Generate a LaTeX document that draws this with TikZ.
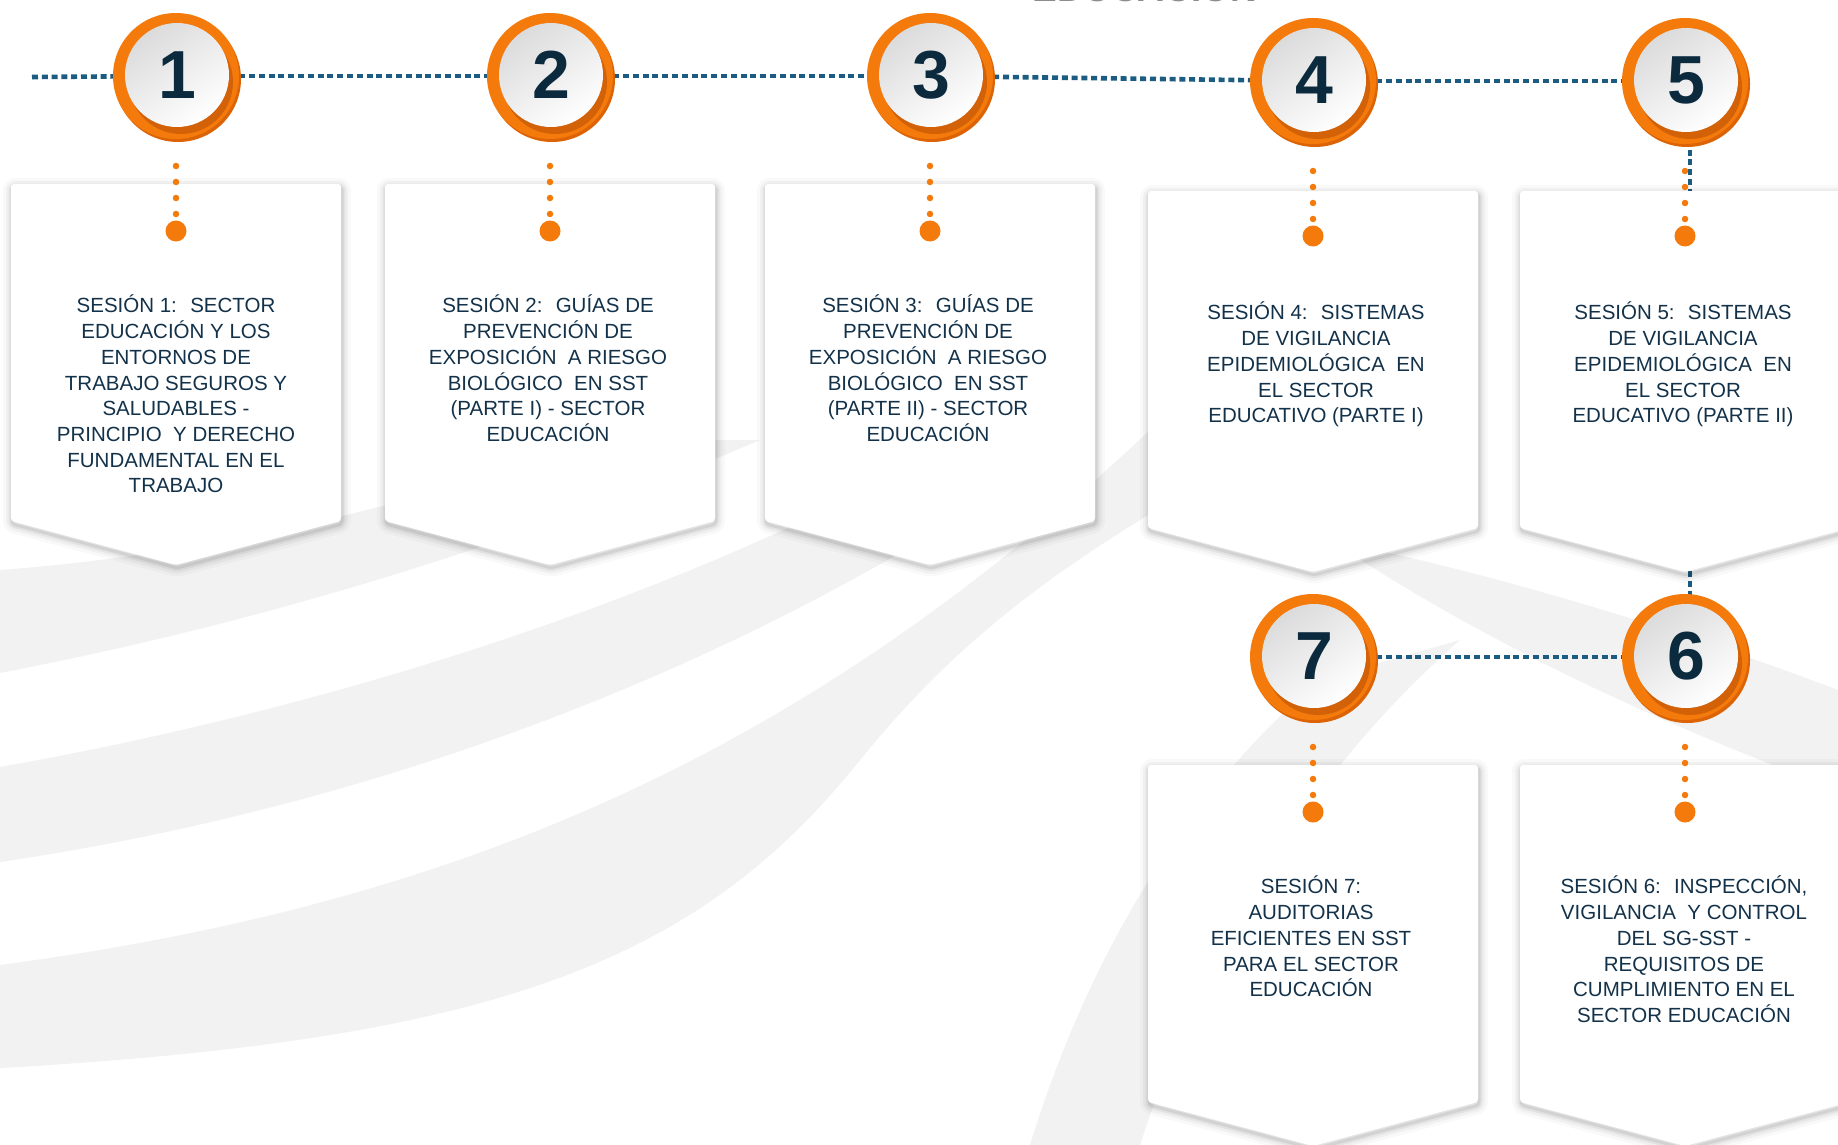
\documentclass[tikz,border=0pt]{standalone}
\usepackage{fontspec}
\setmainfont{Liberation Sans}
\usetikzlibrary{calc}
\definecolor{orng}{HTML}{F47A0C}
\definecolor{orngdark}{HTML}{B84E06}
\definecolor{orngshade}{HTML}{DC6406}
\definecolor{navy}{HTML}{13324A}
\definecolor{numcol}{HTML}{0B2A3D}
\definecolor{dotblue}{HTML}{1C5C82}
\definecolor{ribbon}{HTML}{F2F2F2}
\pgfdeclarelayer{ribbons}
\pgfdeclarelayer{lines}
\pgfsetlayers{ribbons,lines,main}
\tikzset{
  sessfill/.style={fill=white, rounded corners=3pt},
  sessshadow/.style={draw=black, rounded corners=3pt, line join=round, shift={(1,3)}},
  sesstext/.style={anchor=north, align=center, inner sep=0pt, text=navy, font=\fontsize{20.5}{25.7}\selectfont},
  ring/.style={circle, minimum size=126pt, inner sep=0pt, fill=orng},
  numtext/.style={font=\fontsize{68}{68}\bfseries\selectfont, text=numcol, inner sep=0pt},
  bluedots/.style={dotblue, line width=4.6pt, dash pattern=on 6pt off 3.8pt},
  odots/.style={orng, line width=6.5pt, line cap=round, dash pattern=on 0pt off 16pt},
  bigdot/.style={circle, fill=orng, minimum size=21pt, inner sep=0pt},
  ribbonfill/.style={fill=ribbon},
}
\newcommand\numcirc[4]{%
  \fill[orngshade] ({#2+2},{#3+3}) circle (63pt);
  \node[ring] (#1) at (#2,#3) {};
  \fill[orngdark, opacity=0.55] ({#2+5},{#3+6}) circle (52pt);
  \shade[top color=black!14, bottom color=white, shading angle=35] ({#2+1},{#3-1}) circle (52pt);
  \node[numtext] (n#1) at ({#2+1},{#3-1}) {#4};
}
\newcommand\sesspath[2]{(#1,#2) -- ({#1+330},#2) -- ({#1+330},{#2+337}) -- ({#1+165},{#2+381}) -- (#1,{#2+337}) -- cycle}
\newcommand\sessshape[2]{%
  \foreach \w/\o in {18/0.025, 12/0.035, 7/0.05, 3/0.07} {
    \draw[sessshadow, opacity=\o, line width=\w pt] \sesspath{#1}{#2};
  }
  \path[sessfill] \sesspath{#1}{#2};
}
\newcommand\dotcol[1]{%
  \node[bigdot] (d#1) at ($(#1)+(0,155)$) {};
  \draw[odots] ($(#1)+(0,90)$) -- (d#1);
}
\begin{document}
\begin{tikzpicture}[x=1pt,y=-1pt]
\useasboundingbox (0,0) rectangle (1838,1145);
% background ribbons
\begin{pgfonlayer}{ribbons}
\fill[white] (0,0) rectangle (1838,1145);
\fill[ribbonfill] (0,570) -- (0,673) .. controls (300,615) and (550,530) .. (760,440) -- (600,440) .. controls (400,510) and (200,555) .. (0,570) -- cycle;
\fill[ribbonfill] (0,767) .. controls (350,705) and (700,590) .. (980,430) -- (1090,430) .. controls (800,640) and (420,800) .. (0,862) -- cycle;
\fill[ribbonfill] (0,965) .. controls (450,905) and (800,760) .. (1150,430) -- (1300,430) .. controls (1050,560) and (950,650) .. (860,760) .. controls (700,960) and (500,1040) .. (0,1068) -- cycle;
\fill[ribbonfill] (1030,1145) .. controls (1090,950) and (1190,790) .. (1320,680) -- (1460,640) .. controls (1300,780) and (1200,960) .. (1140,1145) -- cycle;
\fill[ribbonfill] (1330,540) .. controls (1500,575) and (1680,630) .. (1838,690) -- (1838,790) .. controls (1650,720) and (1480,640) .. (1330,540) -- cycle;
\end{pgfonlayer}
% partially visible title
\node[anchor=base, font=\fontsize{37}{37}\bfseries\selectfont, text=black!45, inner sep=0pt] (title) at (1145,2) {EDUCACIÓN};
% boxes
\sessshape{11}{184}
\sessshape{385}{184}
\sessshape{765}{184}
\sessshape{1148}{191}
\sessshape{1520}{191}
\sessshape{1148}{765}
\sessshape{1520}{765}
% texts
\node[sesstext] (t1) at (176,295) {SESIÓN 1:~ SECTOR\\EDUCACIÓN Y LOS\\ENTORNOS DE\\TRABAJO SEGUROS Y\\SALUDABLES -\\PRINCIPIO~ Y DERECHO\\FUNDAMENTAL EN EL\\TRABAJO};
\node[sesstext] (t2) at (548,295) {SESIÓN 2:~ GUÍAS DE\\PREVENCIÓN DE\\EXPOSICIÓN~ A RIESGO\\BIOLÓGICO~ EN SST\\(PARTE I) - SECTOR\\EDUCACIÓN};
\node[sesstext] (t3) at (928,295) {SESIÓN 3:~ GUÍAS DE\\PREVENCIÓN DE\\EXPOSICIÓN~ A RIESGO\\BIOLÓGICO~ EN SST\\(PARTE II) - SECTOR\\EDUCACIÓN};
\node[sesstext] (t4) at (1316,302) {SESIÓN 4:~ SISTEMAS\\DE VIGILANCIA\\EPIDEMIOLÓGICA~ EN\\EL SECTOR\\EDUCATIVO (PARTE I)};
\node[sesstext] (t5) at (1683,302) {SESIÓN 5:~ SISTEMAS\\DE VIGILANCIA\\EPIDEMIOLÓGICA~ EN\\EL SECTOR\\EDUCATIVO (PARTE II)};
\node[sesstext] (t7) at (1311,876) {SESIÓN 7:\\AUDITORIAS\\EFICIENTES EN SST\\PARA EL SECTOR\\EDUCACIÓN};
\node[sesstext] (t6) at (1684,876) {SESIÓN 6:~ INSPECCIÓN,\\VIGILANCIA~ Y CONTROL\\DEL SG-SST -\\REQUISITOS DE\\CUMPLIMIENTO EN EL\\SECTOR EDUCACIÓN};
% circles
\numcirc{c1}{176}{76}{1}
\numcirc{c2}{550}{76}{2}
\numcirc{c3}{930}{76}{3}
\numcirc{c4}{1313}{81}{4}
\numcirc{c5}{1685}{81}{5}
\numcirc{c7}{1313}{657}{7}
\numcirc{c6}{1685}{657}{6}
\coordinate (lstart) at (32,77);
% orange dotted connectors
\dotcol{c1}
\dotcol{c2}
\dotcol{c3}
\dotcol{c4}
\dotcol{c5}
\dotcol{c7}
\dotcol{c6}
% blue dotted connectors
\begin{pgfonlayer}{lines}
\draw[bluedots] (lstart) -- (c1);
\draw[bluedots] (c1) -- (c2);
\draw[bluedots] (c2) -- (c3);
\draw[bluedots] (c3) -- (c4);
\draw[bluedots] (c4) -- (c5);
\draw[bluedots] ([xshift=5pt]c5.center) -- ([xshift=5pt]c6.center);
\draw[bluedots] (c7) -- (c6);
\end{pgfonlayer}
\end{tikzpicture}
\end{document}
